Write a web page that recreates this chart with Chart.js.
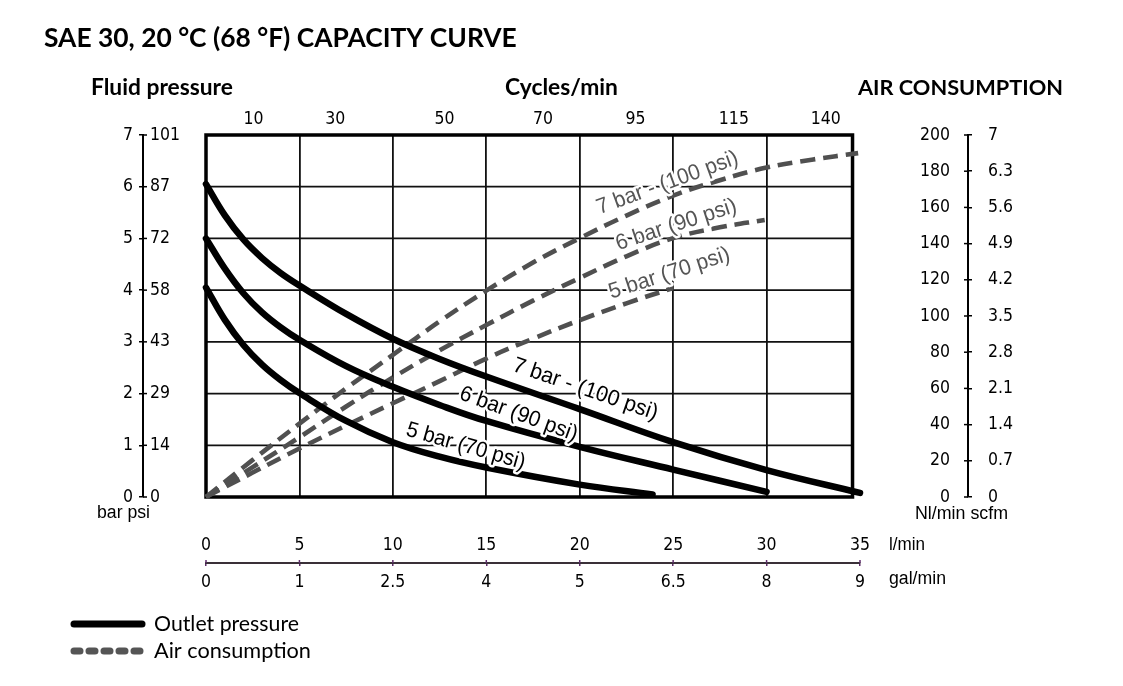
<!DOCTYPE html>
<html>
<head>
<meta charset="utf-8">
<title>SAE 30 capacity curve</title>
<script src="https://cdn.jsdelivr.net/npm/chart.js@4.4.1/dist/chart.umd.min.js"></script>
<style>
  html, body { margin: 0; padding: 0; background: #fff; }
  #wrap { position: relative; width: 1123px; height: 686px; }
</style>
</head>
<body>
<div id="wrap"><canvas id="chart"></canvas></div>
<script>
// Outlet pressure (bar) against flow (l/min)
const flow7 = [0, 1, 2, 3, 4, 5, 7.5, 10, 12.5, 15, 20, 25, 30, 35];
const press7 = [6.05, 5.45, 4.98, 4.62, 4.33, 4.09, 3.54, 3.06, 2.67, 2.33, 1.7, 1.06, 0.52, 0.08];
const flow6 = [0, 1, 2, 3, 4, 5, 7.5, 10, 12.5, 15, 20, 25, 30];
const press6 = [5.0, 4.42, 3.94, 3.57, 3.28, 3.04, 2.53, 2.13, 1.78, 1.47, 0.97, 0.53, 0.1];
const flow5 = [0, 1, 2, 3, 4, 5, 7.5, 10, 12.5, 15, 20, 23.9];
const press5 = [4.05, 3.43, 2.94, 2.56, 2.26, 2.01, 1.47, 1.06, 0.78, 0.57, 0.24, 0.05];

// Air consumption (Nl/min) against flow (l/min)
const airFlow7 = [0, 2.5, 5, 7.5, 10, 12.5, 15, 17.5, 20, 22.5, 25, 27.5, 30, 32.5, 34.9];
const air7 = [0, 20.5, 40.5, 60, 78.5, 97, 114, 129.5, 143, 155.5, 166.5, 175, 182, 186.5, 190];
const airFlow6 = [0, 2.5, 5, 7.5, 10, 12.5, 15, 17.5, 20, 22.5, 25, 27.5, 29.9];
const air6 = [0, 16.5, 33, 50, 66, 81, 95, 108.5, 121, 133, 143, 149, 153];
const airFlow5 = [0, 2.5, 5, 7.5, 10, 12.5, 15, 17.5, 20, 22.5, 25];
const air5 = [0, 13.5, 26.8, 39.5, 51.8, 64, 76.5, 87.5, 97.7, 107, 115.5];

const curveNames = ['7 bar - (100 psi)', '6 bar (90 psi)', '5 bar (70 psi)'];

// Axis ticks
const barTicks = [0, 1, 2, 3, 4, 5, 6, 7];
const psiLabels = ['0', '14', '29', '43', '58', '72', '87', '101'];
const nlTicks = [0, 20, 40, 60, 80, 100, 120, 140, 160, 180, 200];
const scfmLabels = ['0', '0.7', '1.4', '2.1', '2.8', '3.5', '4.2', '4.9', '5.6', '6.3', '7'];
const litreTicks = [0, 5, 10, 15, 20, 25, 30, 35];
const galLabels = ['0', '1', '2.5', '4', '5', '6.5', '8', '9'];
const cycleLabels = ['10', '30', '50', '70', '95', '115', '140'];
const cycleAt = [2.54, 6.92, 12.76, 18.03, 22.98, 28.25, 33.17];

const frameMax = 34.6;

const NARROW = '"DejaVu Sans Condensed", "Liberation Sans", sans-serif';
const ARIAL = '"Liberation Sans", Arial, sans-serif';
const HUMAN = 'Lato, "Open Sans", "Noto Sans", sans-serif';
const tickFont = { family: NARROW, size: 17.5 };

function pts(xs, ys) {
    return xs.map((x, i) => ({ x: x, y: ys[i] }));
}

function pressureSet(label, xs, ys) {
    return {
        label: label, data: pts(xs, ys), xAxisID: 'x', yAxisID: 'y',
        borderColor: '#000', borderWidth: 6.5, borderCapStyle: 'round', borderJoinStyle: 'round',
        pointRadius: 0, tension: 0.4, fill: false, clip: false
    };
}

function airSet(label, xs, ys) {
    return {
        label: label, data: pts(xs, ys), xAxisID: 'x', yAxisID: 'yNl',
        borderColor: '#505050', borderWidth: 4.6, borderDash: [15, 8], borderCapStyle: 'butt',
        pointRadius: 0, tension: 0.4, fill: false, clip: false
    };
}

// text stretched to a given width
function fitText(ctx, s, x, y, w, weight, family, color) {
    ctx.font = weight + ' 20px ' + family;
    const size = 20 * w / ctx.measureText(s).width;
    ctx.font = weight + ' ' + size.toFixed(2) + 'px ' + family;
    ctx.fillStyle = color;
    ctx.fillText(s, x, y);
}

// condensed look: fixed height, squeezed to a width
function narrowText(ctx, s, x, y, w, size, color) {
    ctx.save();
    ctx.font = size + 'px ' + ARIAL;
    const k = w / ctx.measureText(s).width;
    ctx.translate(x, y);
    ctx.scale(k, 1);
    ctx.textAlign = 'left';
    ctx.textBaseline = 'middle';
    ctx.fillStyle = color;
    ctx.fillText(s, 0, 0);
    ctx.restore();
}

const decorations = {
    id: 'decorations',
    afterLayout(chart) {
        // pull the inner label columns away from the axis lines
        chart.scales.yPsi.left += 7;
        chart.scales.yNl.right -= 18;
    },
    beforeDatasetsDraw(chart) {
        const ctx = chart.ctx;
        const xs = chart.scales.x, ys = chart.scales.y;
        const l = xs.getPixelForValue(0), r = xs.getPixelForValue(frameMax);
        const t = ys.getPixelForValue(7), b = ys.getPixelForValue(0);
        ctx.save();
        ctx.strokeStyle = '#111';
        ctx.lineWidth = 1.8;
        barTicks.slice(1, -1).forEach(v => {
            const py = ys.getPixelForValue(v);
            ctx.beginPath(); ctx.moveTo(l, py); ctx.lineTo(r, py); ctx.stroke();
        });
        ctx.strokeStyle = '#000';
        ctx.lineWidth = 3.5;
        ctx.strokeRect(l, t, r - l, b - t);
        // tick marks on the far side of the outer axis lines
        ctx.lineWidth = 1.5;
        const ax = chart.scales.y.right, ar = chart.scales.yScfm.left;
        barTicks.forEach(v => {
            const py = ys.getPixelForValue(v);
            ctx.beginPath(); ctx.moveTo(ax, py); ctx.lineTo(ax + 4, py); ctx.stroke();
        });
        nlTicks.forEach(v => {
            const py = chart.scales.yNl.getPixelForValue(v);
            ctx.beginPath(); ctx.moveTo(ar - 4, py); ctx.lineTo(ar, py); ctx.stroke();
        });
        ctx.strokeStyle = '#5e2d6b';
        const gy = chart.scales.xGal.top;
        litreTicks.forEach(v => {
            const px = xs.getPixelForValue(v);
            ctx.beginPath(); ctx.moveTo(px, gy - 3); ctx.lineTo(px, gy); ctx.stroke();
        });
        ctx.restore();
    },
    afterDatasetsDraw(chart) {
        const ctx = chart.ctx;
        const xs = chart.scales.x, ys = chart.scales.y;
        const spots = [
            { i: 0, x: 20.3, y: 2.08, a: 19, w: 152, c: '#000' },
            { i: 1, x: 16.73, y: 1.60, a: 20, w: 124, c: '#000' },
            { i: 2, x: 13.9, y: 0.98, a: 16, w: 123, c: '#000' },
            { i: 0, x: 24.7, y: 6.07, a: -20, w: 149, c: '#555' },
            { i: 1, x: 25.17, y: 5.26, a: -18, w: 126, c: '#555' },
            { i: 2, x: 24.8, y: 4.32, a: -18, w: 126, c: '#555' }
        ];
        spots.forEach(s => {
            const text = curveNames[s.i];
            ctx.save();
            ctx.translate(xs.getPixelForValue(s.x), ys.getPixelForValue(s.y));
            ctx.rotate(s.a * Math.PI / 180);
            ctx.font = '22px ' + ARIAL;
            const k = s.w / ctx.measureText(text).width;
            ctx.scale(k, 1);
            ctx.textAlign = 'center';
            ctx.textBaseline = 'middle';
            ctx.lineJoin = 'round';
            ctx.strokeStyle = '#fff';
            ctx.lineWidth = 5;
            ctx.strokeText(text, 0, 0);
            ctx.fillStyle = s.c;
            ctx.fillText(text, 0, 0);
            ctx.restore();
        });
    },
    afterDraw(chart) {
        const ctx = chart.ctx;
        ctx.save();
        ctx.textAlign = 'left';
        ctx.textBaseline = 'middle';
        fitText(ctx, 'SAE 30, 20 °C (68 °F) CAPACITY CURVE', 44, 38, 473, 'bold', HUMAN, '#000');
        fitText(ctx, 'Fluid pressure', 91, 88, 142, 'bold', HUMAN, '#000');
        fitText(ctx, 'Cycles/min', 505, 88, 113, 'bold', HUMAN, '#000');
        fitText(ctx, 'AIR CONSUMPTION', 858, 88, 205, 'bold', HUMAN, '#000');
        narrowText(ctx, 'bar psi', 97, 513, 53, 18, '#000');
        narrowText(ctx, 'Nl/min scfm', 915, 514, 93, 18, '#000');
        narrowText(ctx, 'l/min', 889, 545, 36, 18, '#000');
        narrowText(ctx, 'gal/min', 889, 579, 57, 18, '#000');

        // key
        ctx.lineCap = 'round';
        ctx.lineWidth = 7;
        ctx.strokeStyle = '#000';
        ctx.setLineDash([]);
        ctx.beginPath(); ctx.moveTo(74, 624); ctx.lineTo(142, 624); ctx.stroke();
        ctx.strokeStyle = '#555';
        ctx.setLineDash([6, 9]);
        ctx.beginPath(); ctx.moveTo(74, 651); ctx.lineTo(142, 651); ctx.stroke();
        ctx.setLineDash([]);
        fitText(ctx, 'Outlet pressure', 154, 624, 145, 'normal', HUMAN, '#000');
        fitText(ctx, 'Air consumption', 154, 651, 157, 'normal', HUMAN, '#000');
        ctx.restore();
    }
};

const fixedTicks = list => axis => { axis.ticks = list.map(v => ({ value: v })); };

new Chart(document.getElementById('chart'), {
    type: 'line',
    data: {
        datasets: [
            pressureSet('Outlet pressure 7 bar', flow7, press7),
            pressureSet('Outlet pressure 6 bar', flow6, press6),
            pressureSet('Outlet pressure 5 bar', flow5, press5),
            airSet('Air consumption 7 bar', airFlow7, air7),
            airSet('Air consumption 6 bar', airFlow6, air6),
            airSet('Air consumption 5 bar', airFlow5, air5)
        ]
    },
    options: {
        responsive: true,
        maintainAspectRatio: false,
        animation: false,
        events: [],
        layout: { padding: { left: 63, right: 75, top: 100, bottom: 83 } },
        plugins: { legend: { display: false }, tooltip: { enabled: false }, title: { display: false } },
        scales: {
            x: {
                type: 'linear', position: 'bottom', min: 0, max: 35, weight: 0,
                afterBuildTicks: fixedTicks(litreTicks),
                afterFit: s => { s.height = 66; },
                grid: {
                    drawTicks: false, lineWidth: 1.8,
                    color: c => (c.tick && c.tick.value > 0 && c.tick.value < frameMax) ? '#111' : 'rgba(0,0,0,0)'
                },
                border: { display: false },
                ticks: { font: tickFont, color: '#000', padding: 38, maxRotation: 0, autoSkip: false }
            },
            xGal: {
                type: 'linear', position: 'bottom', min: 0, max: 35, weight: 1,
                afterBuildTicks: fixedTicks(litreTicks),
                afterFit: s => { s.height = 40; },
                grid: { drawOnChartArea: false, drawTicks: true, tickLength: 3, color: '#5e2d6b', lineWidth: 1.5 },
                border: { display: true, color: '#3a3038', width: 2 },
                ticks: { font: tickFont, color: '#000', padding: 6, maxRotation: 0, autoSkip: false,
                         callback: (v, i) => galLabels[i] }
            },
            xTop: {
                type: 'linear', position: 'top', min: 0, max: 35,
                afterBuildTicks: fixedTicks(cycleAt),
                afterFit: s => { s.height = 35; },
                grid: { display: false },
                border: { display: false },
                ticks: { font: tickFont, color: '#000', padding: -3, maxRotation: 0, autoSkip: false,
                         callback: (v, i) => cycleLabels[i] }
            },
            y: {
                type: 'linear', position: 'left', min: 0, max: 7, weight: 1,
                afterBuildTicks: fixedTicks(barTicks),
                afterFit: s => { s.width = 80; },
                grid: { drawOnChartArea: false, drawTicks: true, tickLength: 4, color: '#000', lineWidth: 1.5 },
                border: { display: true, color: '#000', width: 2 },
                ticks: { font: tickFont, color: '#000', padding: 6, autoSkip: false }
            },
            yPsi: {
                type: 'linear', position: 'left', min: 0, max: 7, weight: 0,
                afterBuildTicks: fixedTicks(barTicks),
                afterFit: s => { s.width = 63; },
                grid: { display: false },
                border: { display: false },
                ticks: { font: tickFont, color: '#000', crossAlign: 'far', autoSkip: false,
                         callback: (v, i) => psiLabels[i] }
            },
            yNl: {
                type: 'linear', position: 'right', min: 0, max: 200, weight: 0,
                afterBuildTicks: fixedTicks(nlTicks),
                afterFit: s => { s.width = 108; },
                grid: { display: false },
                border: { display: false },
                ticks: { font: tickFont, color: '#000', crossAlign: 'far', autoSkip: false }
            },
            yScfm: {
                type: 'linear', position: 'right', min: 0, max: 200, weight: 1,
                afterBuildTicks: fixedTicks(nlTicks),
                afterFit: s => { s.width = 80; },
                grid: { drawOnChartArea: false, drawTicks: true, tickLength: 4, color: '#000', lineWidth: 1.5 },
                border: { display: true, color: '#000', width: 2 },
                ticks: { font: tickFont, color: '#000', padding: 16, autoSkip: false,
                         callback: (v, i) => scfmLabels[i] }
            }
        }
    },
    plugins: [decorations]
});
</script>
</body>
</html>
